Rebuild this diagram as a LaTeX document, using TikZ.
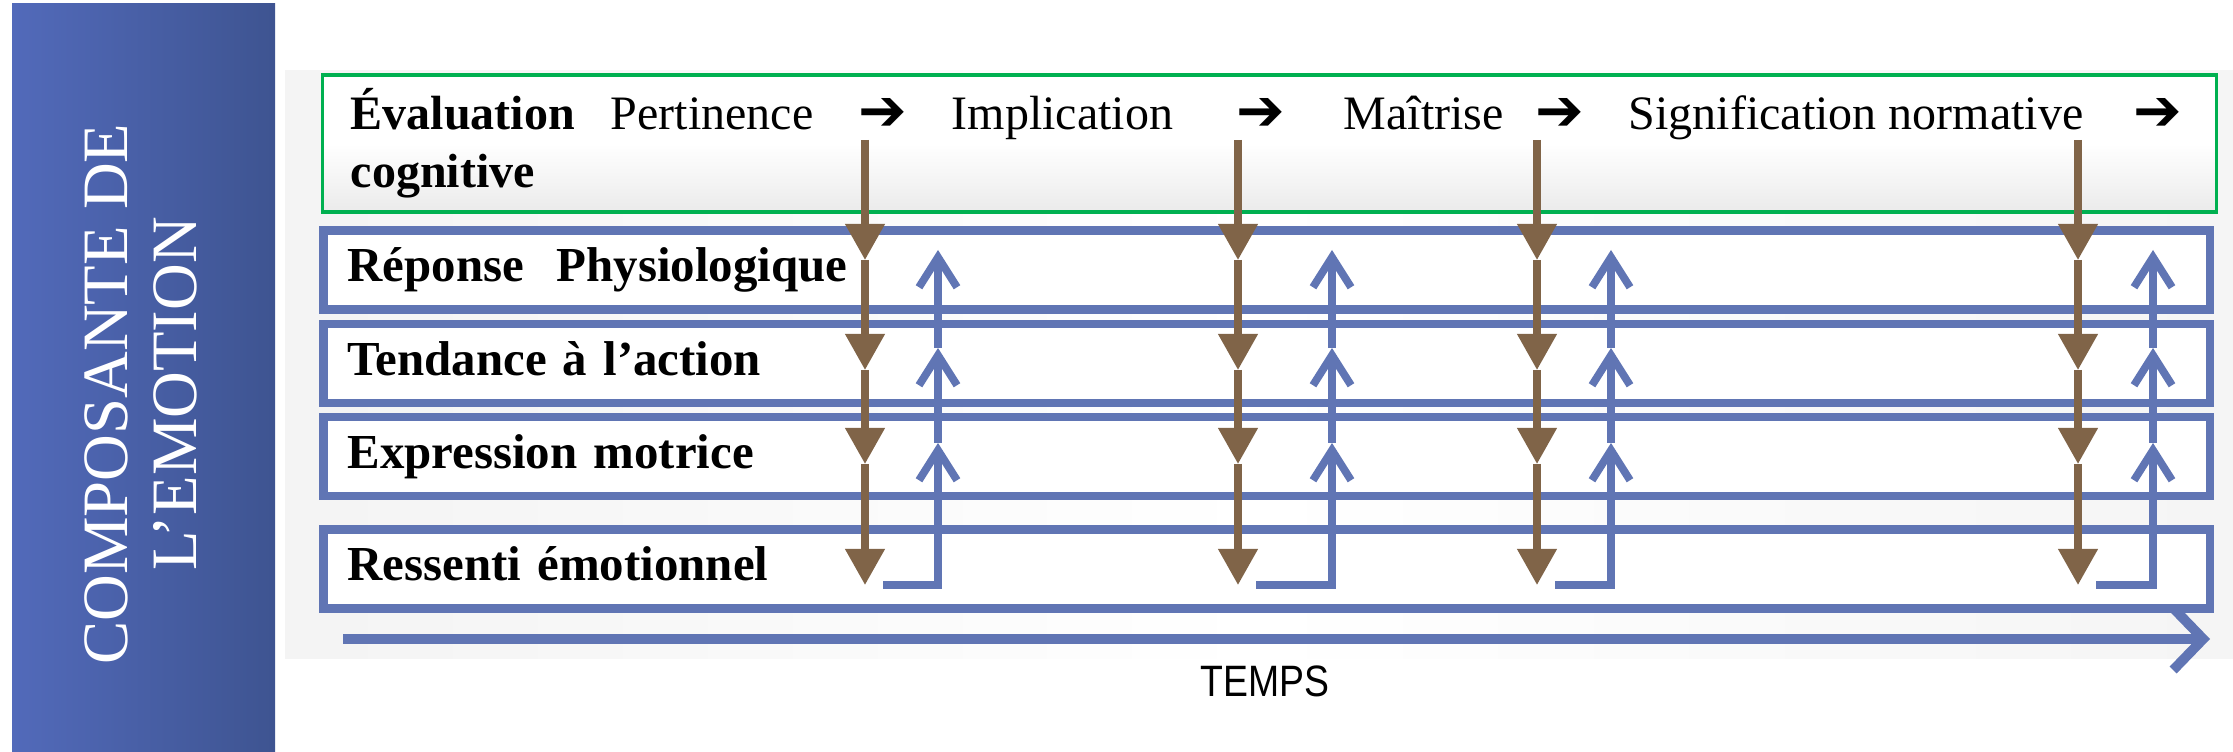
\documentclass[tikz,border=0pt]{standalone}
\usepackage{fontspec}
\setmainfont{Liberation Serif}
\newfontfamily\flechefont{DejaVu Sans}
\newfontfamily\tempsfont{Liberation Sans}
\usetikzlibrary{arrows.meta}

\definecolor{bleucomp}{RGB}{96,117,180}
\definecolor{brunfl}{RGB}{128,100,72}
\definecolor{vertcog}{RGB}{0,176,80}
\definecolor{panclair}{RGB}{82,106,186}
\definecolor{panfonce}{RGB}{62,84,145}

\tikzset{
	compbox/.style={draw=bleucomp, line width=2.3pt, fill=white, minimum width=18.85cm, minimum height=0.79cm,
		text width=18.37cm, align=left, inner xsep=0.24cm, inner ysep=0pt, text height=0.8em, text depth=0.13em,
		font=\bfseries\fontsize{13.9pt}{16pt}\selectfont},
	evaltext/.style={anchor=base west, inner sep=0pt, font=\fontsize{13.65pt}{16pt}\selectfont},
	evalgras/.style={evaltext, font=\bfseries\fontsize{13.65pt}{16pt}\selectfont},
	flechetext/.style={evaltext, font=\flechefont\bfseries\fontsize{16.5pt}{18pt}\selectfont},
	brunarr/.style={brunfl, line width=2.1pt, -{Triangle[length=0.36cm,width=0.38cm]}},
	bleuarr/.style={bleucomp, line width=2.2pt, -{Straight Barb[length=0.3cm,width=0.38cm]}},
	tempsarr/.style={bleucomp, line width=2.8pt, -{Straight Barb[length=0.3cm,width=0.62cm]}}
}

\begin{document}
\begin{tikzpicture}[x=0.01cm, y=-0.01cm]
	\useasboundingbox (0,0) rectangle (2233,752);
	
	% Panneau de gauche
	\shade[left color=panclair, right color=panfonce] (12,4) rectangle (275,752);
	\node[rotate=90, align=center, text=white, font=\fontsize{18.4pt}{19.6pt}\selectfont] (titre) at (141,394) {COMPOSANTE DE\\L’EMOTION};
	
	% Fond
	\shade[left color=gray!9, right color=gray!8, middle color=white] (285,71) rectangle (2233,658);
	
	% Evaluation cognitive
	\node[draw=vertcog, line width=0.9pt, top color=white, bottom color=gray!16, middle color=white,
		minimum width=18.93cm, minimum height=1.37cm] (evalbox) at (1269.5,143.5) {};
	\node[evalgras] (eval1) at (350,130) {Évaluation};
	\node[evalgras] (eval2) at (350,188) {cognitive};
	\node[evaltext] (pert) at (610,130) {Pertinence};
	\node[flechetext] (f1) at (858,131) {➔};
	\node[evaltext] (impl) at (951,130) {Implication};
	\node[flechetext] (f2) at (1236,131) {➔};
	\node[evaltext] (mait) at (1343,130) {Maîtrise};
	\node[flechetext] (f3) at (1535,131) {➔};
	\node[evaltext] (sign) at (1628,130) {Signification normative};
	\node[flechetext] (f4) at (2133,131) {➔};
	
	% Composantes
	\node[compbox] (rep) at (1266.5,270) {Réponse~~Physiologique};
	\node[compbox] (tend) at (1266.5,363.5) {Tendance à l’action};
	\node[compbox] (expr) at (1266.5,456.5) {Expression motrice};
	\node[compbox] (ress) at (1266.5,569) {Ressenti émotionnel};
	
	% Fleches descendantes et montantes
	\foreach \n/\bx/\ux in {1/865/938, 2/1238/1332, 3/1537/1611, 4/2078/2153} {
		\coordinate (b\n0) at (\bx,140);
		\coordinate (b\n1) at (\bx,260);
		\coordinate (b\n2) at (\bx,370);
		\coordinate (b\n3) at (\bx,464);
		\coordinate (b\n4) at (\bx,585);
		\draw[brunarr] (b\n0) -- (b\n1);
		\draw[brunarr] (b\n1) -- (b\n2);
		\draw[brunarr] (b\n2) -- (b\n3);
		\draw[brunarr] (b\n3) -- (b\n4);
		\coordinate (u\n0) at (\bx+18,585);
		\coordinate (u\n1) at (\ux,585);
		\coordinate (u\n2) at (\ux,443);
		\coordinate (u\n3) at (\ux,348);
		\coordinate (u\n4) at (\ux,250);
		\draw[bleuarr] (u\n0) -- (u\n1) -- (u\n2);
		\draw[bleuarr] (u\n2) -- (u\n3);
		\draw[bleuarr] (u\n3) -- (u\n4);
	}
	
	% Axe du temps
	\coordinate (t0) at (343,639);
	\coordinate (t1) at (2210,639);
	\draw[tempsarr] (t0) -- (t1);
	\node[font=\tempsfont\fontsize{12.5pt}{14pt}\selectfont] (temps) at (1265,681) {\scalebox{0.85}[1]{TEMPS}};
	
\end{tikzpicture}
\end{document}
